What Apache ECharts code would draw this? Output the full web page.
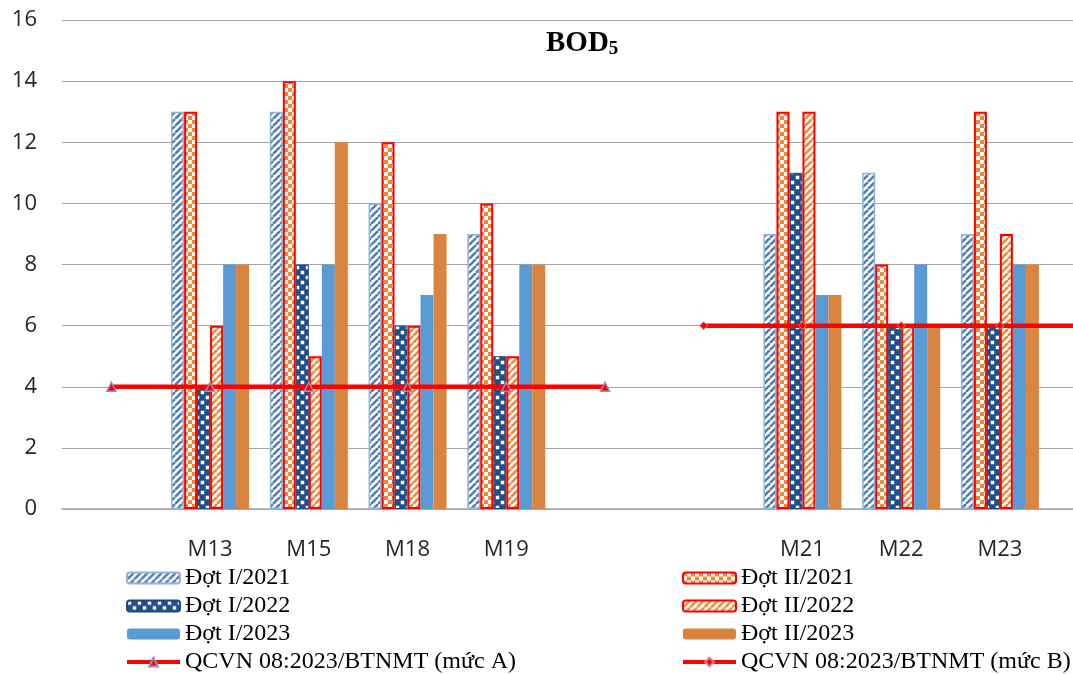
<!DOCTYPE html>
<html>
<head>
<meta charset="utf-8">
<script src="https://cdn.jsdelivr.net/npm/echarts@6/dist/echarts.min.js"></script>
<style>
  html, body { margin: 0; padding: 0; background: #fff; }
  #chart { width: 1073px; height: 674px; }
</style>
</head>
<body>
<div id="chart"></div>
<script>
// Sampling sites (blank slots separate the two groups and pad the ends)
const categories = ['', 'M13', 'M15', 'M18', 'M19', '', '', 'M21', 'M22', 'M23', ''];
const yTicks = [0, 2, 4, 6, 8, 10, 12, 14, 16];

// BOD5 (mg/L) per monitoring round
const dot1_2021 = ['-', 13, 13, 10, 9, '-', '-', 9, 11, 9, '-'];
const dot2_2021 = ['-', 13, 14, 12, 10, '-', '-', 13, 8, 13, '-'];
const dot1_2022 = ['-', 4, 8, 6, 5, '-', '-', 11, 6, 6, '-'];
const dot2_2022 = ['-', 6, 5, 6, 5, '-', '-', 13, 6, 9, '-'];
const dot1_2023 = ['-', 8, 8, 7, 8, '-', '-', 7, 8, 8, '-'];
const dot2_2023 = ['-', 8, 12, 9, 8, '-', '-', 7, 6, 8, '-'];

// QCVN 08:2023/BTNMT limits
const limitA = [4, 4, 4, 4, 4, 4, '-', '-', '-', '-', '-'];
const limitB = ['-', '-', '-', '-', '-', '-', 6, 6, 6, 6, 6];

const seriesNames = [
  'Đợt I/2021', 'Đợt II/2021', 'Đợt I/2022', 'Đợt II/2022', 'Đợt I/2023', 'Đợt II/2023',
  'QCVN 08:2023/BTNMT (mức A)', 'QCVN 08:2023/BTNMT (mức B)'
];

// Fill patterns
function hatch(color, size, lw) {
  const c = document.createElement('canvas');
  c.width = size; c.height = size;
  const g = c.getContext('2d');
  g.fillStyle = '#fff'; g.fillRect(0, 0, size, size);
  g.strokeStyle = color; g.lineWidth = lw;
  g.beginPath();
  for (let k = -1; k <= 1; k++) {
    g.moveTo(k * size, size);
    g.lineTo(k * size + size, 0);
  }
  g.stroke();
  return { image: c, repeat: 'repeat' };
}
function checker(bg, fg, cell) {
  const c = document.createElement('canvas');
  c.width = cell * 2; c.height = cell * 2;
  const g = c.getContext('2d');
  g.fillStyle = bg; g.fillRect(0, 0, cell * 2, cell * 2);
  g.fillStyle = fg;
  g.fillRect(0, 0, cell, cell);
  g.fillRect(cell, cell, cell, cell);
  return { image: c, repeat: 'repeat' };
}
function dots(bg, fg, cell, sq) {
  const c = document.createElement('canvas');
  c.width = cell * 2; c.height = cell * 2;
  const g = c.getContext('2d');
  g.fillStyle = bg; g.fillRect(0, 0, cell * 2, cell * 2);
  g.fillStyle = fg;
  const o = (cell - sq) / 2;
  g.fillRect(o, o, sq, sq);
  g.fillRect(cell + o, cell + o, sq, sq);
  return { image: c, repeat: 'repeat' };
}

const barStyles = [
  { color: hatch('#4A7EBB', 7, 2.5), borderColor: '#95B3D7', borderWidth: 1.5 },
  { color: checker('#ffffff', '#F0883A', 4), borderColor: '#FF0000', borderWidth: 2 },
  { color: dots('#1F4E8C', '#ffffff', 5, 3.5), borderColor: '#1F497D', borderWidth: 1 },
  { color: hatch('#F0883A', 7, 2.5), borderColor: '#FF0000', borderWidth: 2 },
  { color: '#5B9BD5', borderColor: '#5B9BD5', borderWidth: 0 },
  { color: '#D9843F', borderColor: '#D9843F', borderWidth: 0 }
];
const barData = [dot1_2021, dot2_2021, dot1_2022, dot2_2022, dot1_2023, dot2_2023];

const series = barData.map((d, i) => ({
  name: seriesNames[i],
  type: 'bar',
  data: d,
  barGap: '0%',
  barCategoryGap: '21%',
  itemStyle: barStyles[i],
  emphasis: { disabled: true }
}));

series.push({
  name: seriesNames[6],
  type: 'line',
  data: limitA,
  symbol: 'triangle',
  symbolSize: 9,
  showAllSymbol: true,
  lineStyle: { color: '#FF0000', width: 4.5 },
  itemStyle: { color: '#FF0000', borderColor: '#9C8FB8', borderWidth: 1.5 },
  z: 5
});
series.push({
  name: seriesNames[7],
  type: 'line',
  data: limitB,
  symbol: 'diamond',
  symbolSize: 8,
  showAllSymbol: true,
  lineStyle: { color: '#FF0000', width: 4.5 },
  itemStyle: { color: '#FF0000', borderColor: '#F08080', borderWidth: 1 },
  z: 5
});

const legendText = { fontFamily: '"Liberation Serif", "Times New Roman", serif', fontSize: 24, color: '#000', lineHeight: 24 };
const legendBase = {
  orient: 'vertical',
  top: 566,
  padding: 0,
  height: 130,
  itemWidth: 53,
  itemHeight: 11,
  itemGap: 4,
  textStyle: legendText,
  selectedMode: false
};
const lineIcon = { width: 4 };

const chart = echarts.init(document.getElementById('chart'), null, { renderer: 'canvas' });
chart.setOption({
  animation: false,
  backgroundColor: '#ffffff',
  title: {
    text: '{b|BOD}{s|5}',
    left: 541,
    top: 23,
    textStyle: {
      rich: {
        b: { fontFamily: '"Liberation Serif", serif', fontWeight: 'bold', fontSize: 29, color: '#000' },
        s: { fontFamily: '"Liberation Serif", serif', fontWeight: 'bold', fontSize: 19, color: '#000', padding: [12, 0, 0, 0] }
      }
    }
  },
  grid: { left: 62, right: -75, top: 20, bottom: 165, containLabel: false, outerBoundsMode: 'none' },
  xAxis: {
    type: 'category',
    data: categories,
    axisTick: { show: false },
    axisLine: { lineStyle: { color: '#A6A6A6', width: 1.5 } },
    axisLabel: { margin: 30, fontFamily: '"Open Sans", sans-serif', fontSize: 22, color: '#262626', interval: 0 }
  },
  yAxis: {
    type: 'value',
    min: yTicks[0],
    max: yTicks[yTicks.length - 1],
    interval: yTicks[1] - yTicks[0],
    axisLine: { show: false },
    axisTick: { show: false },
    splitLine: { lineStyle: { color: '#A6A6A6', width: 1.2 } },
    axisLabel: { margin: 25, fontFamily: '"Open Sans", sans-serif', fontSize: 22, color: '#262626' }
  },
  legend: [
    Object.assign({}, legendBase, {
      data: [seriesNames[0], seriesNames[2], seriesNames[4], { name: seriesNames[6], lineStyle: lineIcon }],
      left: 125
    }),
    Object.assign({}, legendBase, {
      data: [seriesNames[1], seriesNames[3], seriesNames[5], { name: seriesNames[7], lineStyle: lineIcon }],
      left: 681
    })
  ],
  series: series
});
</script>
</body>
</html>
